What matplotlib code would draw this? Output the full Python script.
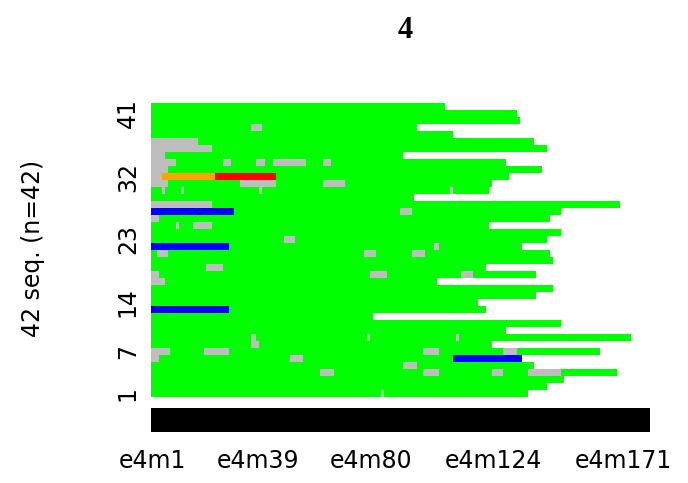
import numpy as np
import matplotlib
matplotlib.use("Agg")
import matplotlib.pyplot as plt
from matplotlib.colors import ListedColormap, BoundaryNorm

# sequence index plot, cluster 4 (42 sequences, 180 months)
n_cols = 180
col_labels = ["e4m%d" % i for i in range(1, n_cols + 1)]
xtick_months = [1, 39, 80, 124, 171]
ytick_seqs = [1, 7, 14, 23, 32, 41]

# length of each sequence, listed from seq 42 (top) down to seq 1
seq_len_top_down = [106, 132, 133, 96, 109, 138, 143, 91, 128, 141, 129, 123, 122, 95,
                    169, 148, 144, 122, 148, 143, 134, 144, 145, 121, 139, 103, 145, 139,
                    118, 121, 80, 148, 128, 173, 123, 162, 134, 138, 168, 149, 143, 136]

# (sequence, first month index, end month index) per state
gray_spells = [(39, 36, 40), (37, 0, 17), (36, 0, 22), (35, 0, 5),
               (34, 0, 9), (34, 26, 29), (34, 38, 41), (34, 44, 56), (34, 62, 65),
               (33, 0, 6), (32, 0, 4),
               (31, 0, 6), (31, 32, 45), (31, 62, 70),
               (30, 4, 5), (30, 11, 12), (30, 39, 40), (30, 108, 109),
               (28, 0, 22), (27, 90, 94), (26, 0, 3), (25, 9, 10), (25, 15, 22),
               (23, 48, 52), (22, 102, 104),
               (21, 2, 6), (21, 77, 81), (21, 94, 99),
               (19, 20, 26), (18, 0, 3), (18, 79, 85), (18, 112, 116), (17, 0, 5),
               (9, 36, 38), (9, 78, 79), (9, 110, 111), (8, 36, 39),
               (7, 0, 7), (7, 19, 28), (7, 98, 104), (7, 127, 132),
               (6, 0, 3), (6, 50, 55), (5, 91, 96),
               (4, 61, 66), (4, 98, 104), (4, 123, 127), (4, 136, 148),
               (1, 83, 84)]
blue_spells = [(27, 0, 30), (22, 0, 28), (13, 0, 28), (6, 109, 134)]
orange_spells = [(32, 4, 23)]
red_spells = [(32, 23, 45)]

state_colors = ["#00FF00", "#BEBEBE", "#0000FF", "#FFA500", "#FF0000"]

n_seq = len(seq_len_top_down)
seq_len = seq_len_top_down[::-1]

# build state matrix, -1 = void
mat = np.full((n_seq, n_cols), -1)
for i, L in enumerate(seq_len):
    mat[i, :L] = 0
for code, spells in [(1, gray_spells), (2, blue_spells), (3, orange_spells), (4, red_spells)]:
    for s, a, b in spells:
        mat[s - 1, a:b] = code
mat = np.ma.masked_less(mat, 0)

fig = plt.figure(figsize=(6.88, 4.83), dpi=100)
ax = fig.add_axes([151 / 688, 1 - 432 / 483, 499 / 688, 329 / 483])

cmap = ListedColormap(state_colors)
norm = BoundaryNorm(np.arange(-0.5, 5.5, 1), cmap.N)
ax.pcolormesh(np.arange(n_cols + 1), np.arange(n_seq + 1), mat, cmap=cmap, norm=norm)

# black band under the sequences
ax.barh(-3.25, n_cols, height=3.5, left=0, color="black")

ax.set_xlim(0, n_cols)
ax.set_ylim(-5, n_seq)
for sp in ax.spines.values():
    sp.set_visible(False)

ax.set_xticks([m - 0.5 for m in xtick_months])
ax.set_xticklabels([col_labels[m - 1] for m in xtick_months], fontsize=17)
ax.set_yticks([s - 0.5 for s in ytick_seqs])
ax.set_yticklabels([str(s) for s in ytick_seqs], fontsize=17, rotation=90, va="center")
ax.tick_params(axis="x", length=0, pad=12)
ax.tick_params(axis="y", length=0, pad=8)

fig.text(33 / 688, 1 - 248 / 483, "%d seq. (n=%d)" % (n_seq, n_seq), rotation=90,
         ha="center", va="center", fontsize=17)
fig.text(405 / 688, 1 - 30 / 483, "4", ha="center", va="center", fontsize=22,
         fontfamily="Liberation Serif", fontweight="bold")

fig.savefig("out.png", dpi=100)
